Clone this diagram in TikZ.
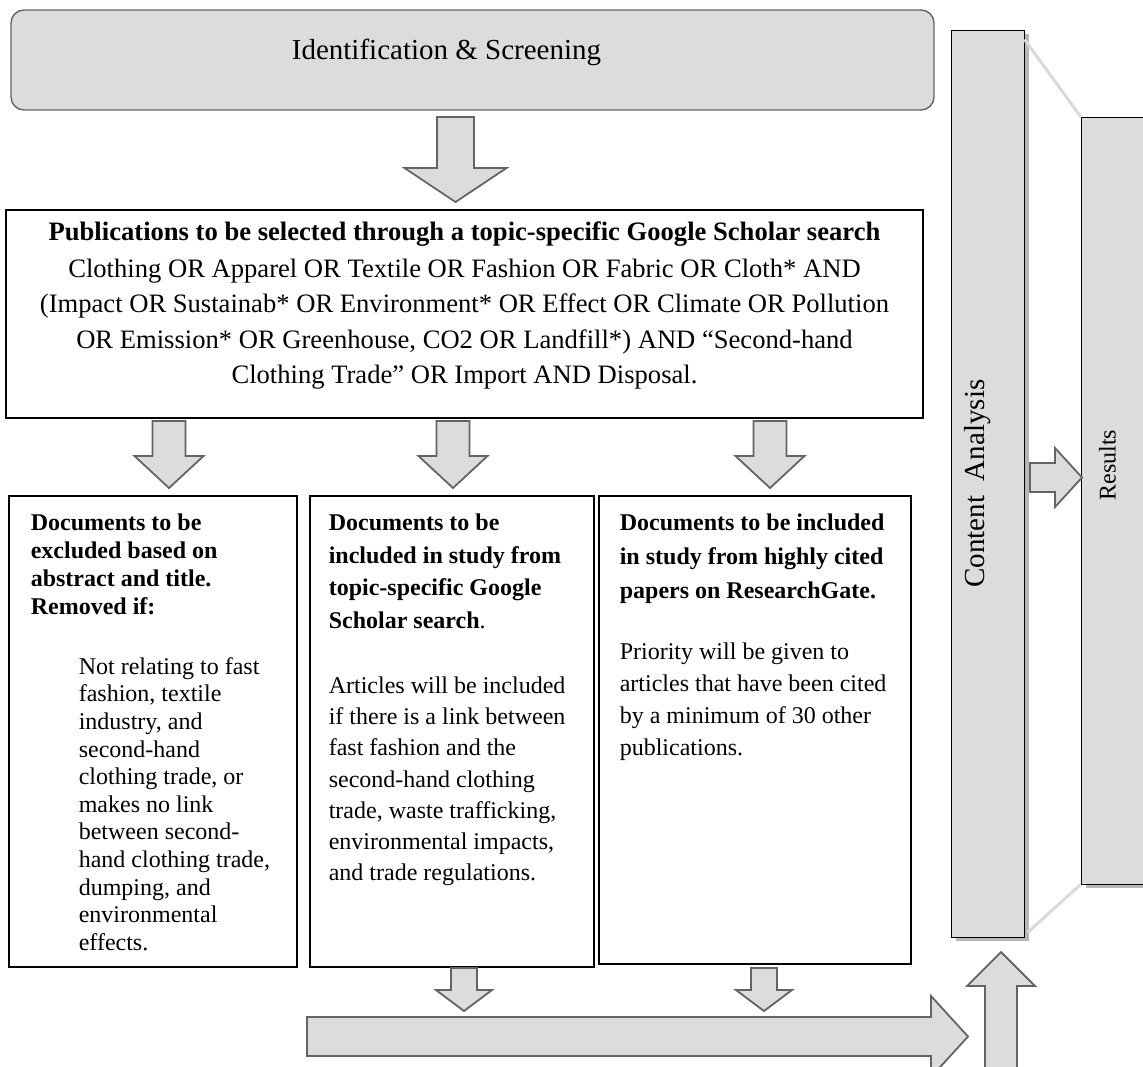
\documentclass[tikz,border=0pt]{standalone}
\usepackage{fontspec}
\setmainfont{Liberation Serif}
\usetikzlibrary{shadows}

\definecolor{boxgray}{HTML}{DCDCDC}
\definecolor{edgegray}{HTML}{646464}
\definecolor{linkgray}{HTML}{D9D9D9}

\tikzset{
  stagebox/.style={draw=edgegray, line width=0.7pt, fill=boxgray, rounded corners=6.5pt, inner sep=0pt},
  listbox/.style={draw=black, line width=0.6pt, fill=white, inner sep=0pt},
  sidebar/.style={draw=black, line width=0.5pt, fill=boxgray, inner sep=0pt,
    drop shadow={shadow xshift=2.5pt, shadow yshift=-2pt, opacity=0.4, fill=black!70}},
  blockarrow/.style={draw=edgegray, line width=0.9pt, fill=boxgray, line join=miter},
  linkline/.style={draw=linkgray, line width=1.5pt},
  boxtext/.style={anchor=north west, inner sep=0pt, align=left},
}

% down-pointing block arrow: x, top, head base, tip, half shaft, half head
\newcommand{\downblock}[6]{%
  \draw[blockarrow] (#1-#5,#2) -- (#1+#5,#2) -- (#1+#5,#3) -- (#1+#6,#3)
    -- (#1,#4) -- (#1-#6,#3) -- (#1-#5,#3) -- cycle;}

\begin{document}
\begin{tikzpicture}[x=0.5pt,y=-0.5pt]
    \useasboundingbox (0,0) rectangle (1143,1066);

    % Stage boxes
    \node[stagebox, minimum width=461.5pt, minimum height=50pt] (ident) at (472.5,60) {};
    \node[font=\fontsize{14.5}{17}\selectfont] (identtxt) at ([shift={(-26,-8)}]ident.center) {Identification \& Screening};

    \node[listbox, minimum width=458.5pt, minimum height=104pt] (pubs) at (464.5,314) {};
    \node[anchor=north, inner sep=0pt, align=center, font=\fontsize{13.3}{17.7}\selectfont] (pubstxt)
        at ([shift={(0,11.5)}]pubs.north) {\textbf{Publications to be selected through a topic-specific Google Scholar search}\\[1pt]
        Clothing OR Apparel OR Textile OR Fashion OR Fabric OR Cloth* AND\\
        (Impact OR Sustainab* OR Environment* OR Effect OR Climate OR Pollution\\
        OR Emission* OR Greenhouse, CO2 OR Landfill*) AND “Second-hand\\
        Clothing Trade” OR Import AND Disposal.};

    % Three document boxes
    \node[listbox, minimum width=144pt, minimum height=235.5pt] (excl) at (153,731.5) {};
    \node[listbox, minimum width=142pt, minimum height=235.5pt] (incl) at (452,731.5) {};
    \node[listbox, minimum width=156pt, minimum height=234pt] (cited) at (755,730) {};

    \node[boxtext, font=\fontsize{12}{14}\selectfont\bfseries] (exclhead) at ([shift={(22,18.5)}]excl.north west)
        {Documents to be\\excluded based on\\abstract and title.\\Removed if:};
    \node[boxtext, font=\fontsize{12}{13.8}\selectfont] (excltxt) at ([shift={(70,161.5)}]excl.north west)
        {Not relating to fast\\fashion, textile\\industry, and\\second-hand\\clothing trade, or\\makes no link\\between second-\\hand clothing trade,\\dumping, and\\environmental\\effects.};

    \node[boxtext, font=\fontsize{12}{16.2}\selectfont\bfseries] (inclhead) at ([shift={(19,18.5)}]incl.north west)
        {Documents to be\\included in study from\\topic-specific Google\\Scholar search\mdseries.};
    \node[boxtext, font=\fontsize{12}{15.6}\selectfont] (incltxt) at ([shift={(19,181)}]incl.north west)
        {Articles will be included\\if there is a link between\\fast fashion and the\\second-hand clothing\\trade, waste trafficking,\\environmental impacts,\\and trade regulations.};

    \node[boxtext, font=\fontsize{12}{17}\selectfont\bfseries] (citedhead) at ([shift={(21,18.5)}]cited.north west)
        {Documents to be included\\in study from highly cited\\papers on ResearchGate.};
    \node[boxtext, font=\fontsize{12}{16}\selectfont] (citedtxt) at ([shift={(21,147)}]cited.north west)
        {Priority will be given to\\articles that have been cited\\by a minimum of 30 other\\publications.};

    % Side bars
    \node[sidebar, minimum width=39.5pt, minimum height=383.5pt] (results) at (1120.5,500.5) {};
    \node[sidebar, minimum width=36.5pt, minimum height=453.5pt] (content) at (987.5,483.5) {};
    \node[rotate=90, font=\fontsize{14.5}{17}\selectfont] (contenttxt) at ([shift={(-10,0)}]content.center) {Content\ \ Analysis};
    \node[rotate=90, font=\fontsize{12}{14}\selectfont] (resultstxt) at ([shift={(27,-35.5)}]results.west) {Results};

    \draw[linkline] ([shift={(0,10)}]content.north east) -- (results.north west);
    \draw[linkline] ([shift={(3,-5)}]content.south east) -- (results.south west);

    % Block arrows
    \downblock{455.5}{117}{168}{202}{18.5}{51}
    \foreach \ax in {169,453,770} {
        \downblock{\ax}{421}{456}{488}{16.5}{34.5}
    }
    \foreach \ax in {464,764} {
        \downblock{\ax}{968}{990}{1011}{13}{28}
    }
    \draw[blockarrow] (307,1017) -- (931,1017) -- (931,996) -- (968,1036.5)
        -- (931,1077) -- (931,1056) -- (307,1056) -- cycle;
    \draw[blockarrow] (985,1075) -- (985,986) -- (967,986) -- (1001,952)
        -- (1035,986) -- (1017,986) -- (1017,1075) -- cycle;
    \draw[blockarrow] (1030,463) -- (1055,463) -- (1055,448) -- (1082,477.5)
        -- (1055,507) -- (1055,492) -- (1030,492) -- cycle;
\end{tikzpicture}
\end{document}
